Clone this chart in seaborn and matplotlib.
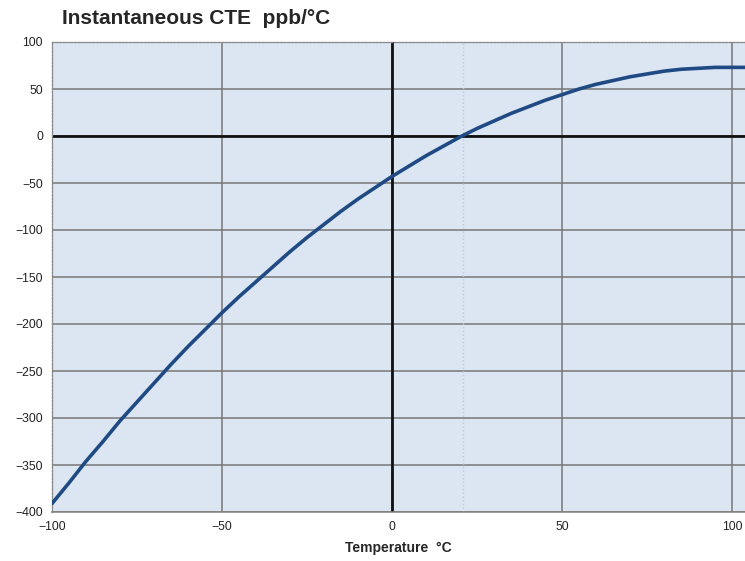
import matplotlib
matplotlib.use("Agg")
import matplotlib.pyplot as plt
import seaborn as sns
import pandas as pd

# Values
temps = [-100, -95, -90, -85, -80, -75, -70, -65, -60, -55, -50, -45, -40, -35,
         -30, -25, -20, -15, -10, -5, 0, 5, 10, 15, 20, 25, 30, 35, 40, 45,
         50, 55, 60, 65, 70, 75, 80, 85, 90, 95, 100, 104]
cte = [-391, -369, -346, -325, -303, -283, -263, -243, -224, -206, -188, -171,
       -155, -139, -123, -108, -94, -80, -67, -55, -43, -32, -21, -11, -1, 8,
       16, 24, 31, 38, 44, 50, 55, 59, 63, 66, 69, 71, 72, 73, 73, 73]
x_ticks = [-100, -50, 0, 50, 100]
y_ticks = [100, 50, 0, -50, -100, -150, -200, -250, -300, -350, -400]
zero_crossing = 20.8

df = pd.DataFrame({"Temperature": temps, "CTE": cte})

sns.set_style("white")
plt.rcParams["font.family"] = ["Liberation Sans", "DejaVu Sans"]

fig = plt.figure(figsize=(7.45, 5.61), dpi=100)
ax = fig.add_axes([52 / 745, 1 - 512 / 561, (745 - 52) / 745, (512 - 42) / 561])
ax.set_facecolor("#dce6f2")

# grid
for yv in y_ticks:
    ax.axhline(yv, color="#777777", lw=1.1, zorder=1)
for xv in x_ticks:
    ax.axvline(xv, color="#777777", lw=1.1, zorder=1)
ax.axhline(0, color="#111111", lw=2.0, zorder=2)
ax.axvline(0, color="#111111", lw=2.0, zorder=2)
ax.axvline(zero_crossing, color="#c4c8d8", lw=1.0, ls=":", zorder=1)

sns.lineplot(data=df, x="Temperature", y="CTE", ax=ax, color="#1f4a84",
             lw=2.6, zorder=3)

ax.set_xlim(-100, 103.8)
ax.set_ylim(-400, 100)
ax.set_xticks(x_ticks)
ax.set_yticks(y_ticks)
ax.tick_params(axis="both", labelsize=8.8, colors="#222222", length=3,
               width=0.8, direction="out")
ax.tick_params(axis="both", color="#888888")

for side in ["top", "left"]:
    ax.spines[side].set_visible(True)
    ax.spines[side].set_color("#8a8a8a")
    ax.spines[side].set_linestyle(":")
    ax.spines[side].set_linewidth(1.0)
ax.spines["bottom"].set_color("#7f7f7f")
ax.spines["bottom"].set_linewidth(1.1)
ax.spines["right"].set_visible(False)

ax.set_xlabel("Temperature  °C", fontsize=10, fontweight="bold", labelpad=6)
ax.set_ylabel("")

fig.text(62 / 745, 1 - 18 / 561, "Instantaneous CTE  ppb/°C", fontsize=15,
         fontweight="bold", va="center", ha="left")

fig.savefig("out.png", dpi=100)
